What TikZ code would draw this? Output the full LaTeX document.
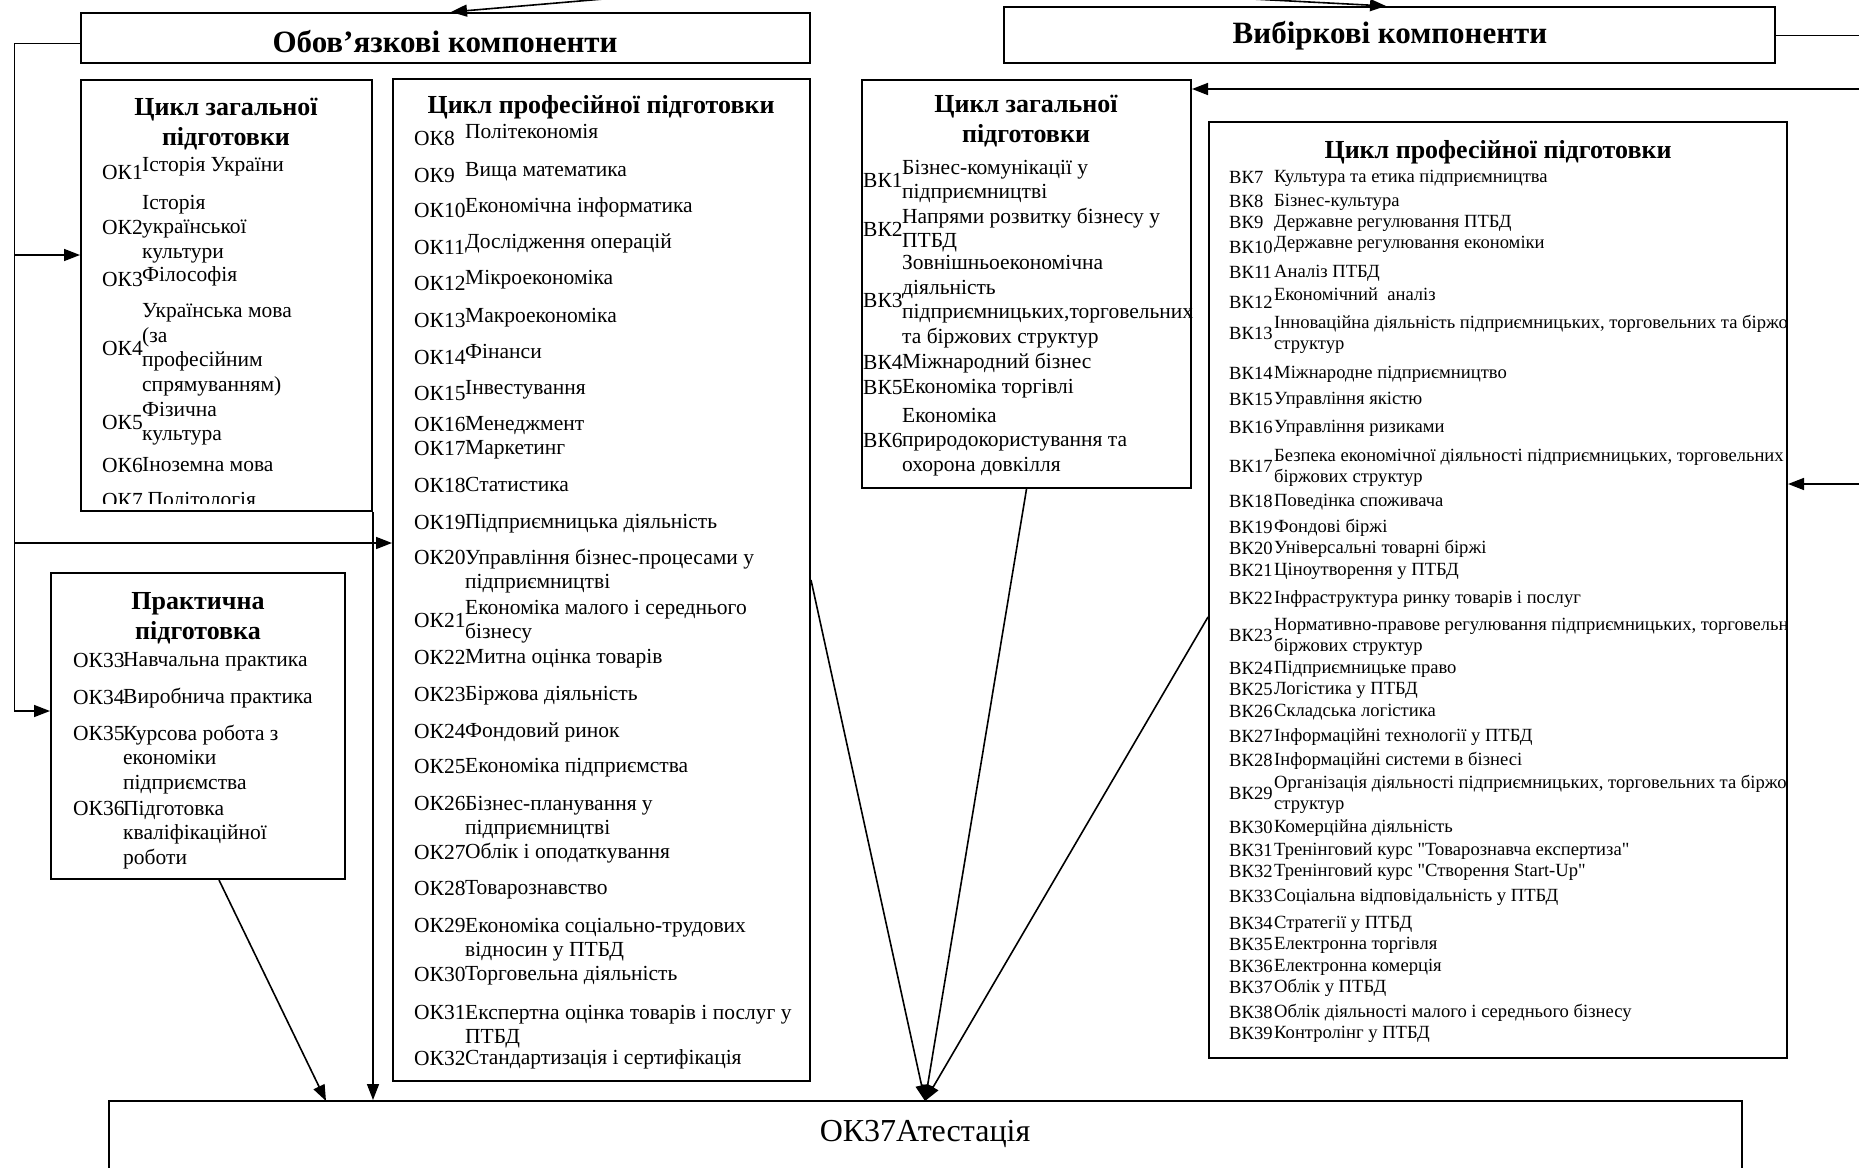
\documentclass[tikz,border=0pt]{standalone}
\usepackage{fontspec}
\setmainfont{Liberation Serif}
\newfontfamily\rawserif[Ligatures=TeXOff]{Liberation Serif}
\usetikzlibrary{arrows.meta}
\newlength{\codew}
\newcommand{\subj}[3][c]{\makebox[\codew][l]{#2}\begin{tabular}[#1]{@{}l@{}}#3\end{tabular}}
\newcommand{\up}[2]{\raisebox{#1pt}[0pt][0pt]{#2}}
\newcommand{\dq}{{\rawserif"}}

\begin{document}
\begin{tikzpicture}
    [x=1pt,y=-1pt,
     box/.style={draw,line width=2pt,inner sep=0pt},
     head/.style={font=\fontsize{31}{36}\selectfont\bfseries},
     title/.style={font=\fontsize{26}{30}\selectfont\bfseries,align=center},
     item/.style={anchor=base west,inner sep=0pt,font=\fontsize{21.5}{24.5}\selectfont},
     okg/.style={item,execute at begin node={\setlength{\codew}{40pt}}},
     okp/.style={item,execute at begin node={\setlength{\codew}{51pt}}},
     prc/.style={item,execute at begin node={\setlength{\codew}{50pt}}},
     vkg/.style={item,execute at begin node={\setlength{\codew}{39pt}}},
     vkp/.style={item,font=\fontsize{18.6}{20.5}\selectfont,execute at begin node={\setlength{\codew}{45pt}}},
     thin/.style={line width=1pt},
     arr/.style={line width=1.6pt,-{Triangle[length=16pt,width=12pt]}}]
    \useasboundingbox (0,0) rectangle (1859,1167);

    % boxes
    \node[box,minimum width=729pt,minimum height=50pt] (oblig) at (445.5,38) {};
    \node[box,minimum width=771pt,minimum height=56pt] (vybir) at (1389.5,35) {};
    \node[box,minimum width=291pt,minimum height=431pt] (okgen) at (226.5,295.5) {};
    \node[box,minimum width=417pt,minimum height=1002pt] (okprof) at (601.5,580) {};
    \node[box,minimum width=294pt,minimum height=306pt] (prac) at (198,726) {};
    \node[box,minimum width=329pt,minimum height=408pt] (vkgen) at (1026.5,284) {};
    \node[box,minimum width=578pt,minimum height=936pt] (vkprof) at (1498,590) {};
    \node[box,minimum width=1633pt,minimum height=100pt] (atest) at (925.5,1151) {};

    \node[head] (oblt) at (445,42) {Обов’язкові компоненти};
    \node[head] (vybt) at (1390,36) {Вибіркові компоненти};
    \node[font=\fontsize{32}{36}\selectfont] (atestt) at (925,1134) {ОК37Атестація};

    \node[title] (okgt) at (226,124) {Цикл загальної\\підготовки};
    \node[title] (okpt) at (601,107) {Цикл професійної підготовки};
    \node[title] (prct) at (198,618) {Практична\\підготовка};
    \node[title] (vkgt) at (1026,121) {Цикл загальної\\підготовки};
    \node[title] (vkpt) at (1498,152) {Цикл професійної підготовки};

    % обов'язкові: загальна підготовка
    \begin{scope}
    \clip (81,80) rectangle (372,503);
    \node[okg] (ok1) at (102,179) {\subj{ОК1}{\up{7}{Історія України}}};
    \node[okg] (ok2) at (102,234) {\subj{ОК2}{Історія\\української\\культури}};
    \node[okg] (ok3) at (102,286) {\subj{ОК3}{\up{4}{Філософія}}};
    \node[okg] (ok4) at (102,355) {\subj{ОК4}{Українська мова\\(за\\професійним\\спрямуванням)}};
    \node[okg] (ok5) at (102,429) {\subj{ОК5}{Фізична\\культура}};
    \node[okg] (ok6) at (102,472) {\subj{ОК6}{Іноземна мова}};
    \node[okg] (ok7) at (102,507) {\subj{ОК7}{\ Політологія}};
    \end{scope}

    % обов'язкові: професійна підготовка
    \node[okp] (ok8) at (414,145) {\subj{ОК8}{\up{6}{Політекономія}}};
    \node[okp] (ok9) at (414,182) {\subj{ОК9}{\up{5}{Вища математика}}};
    \node[okp] (ok10) at (414,217) {\subj{ОК10}{\up{4}{Економічна інформатика}}};
    \node[okp] (ok11) at (414,254) {\subj{ОК11}{\up{5}{Дослідження операцій}}};
    \node[okp] (ok12) at (414,290) {\subj{ОК12}{\up{5}{Мікроекономіка}}};
    \node[okp] (ok13) at (414,327) {\subj{ОК13}{\up{4}{Макроекономіка}}};
    \node[okp] (ok14) at (414,364) {\subj{ОК14}{\up{5}{Фінанси}}};
    \node[okp] (ok15) at (414,400) {\subj{ОК15}{\up{5}{Інвестування}}};
    \node[okp] (ok16) at (414,431) {\subj{ОК16}{Менеджмент}};
    \node[okp] (ok17) at (414,455) {\subj{ОК17}{Маркетинг}};
    \node[okp] (ok18) at (414,492) {\subj{ОК18}{Статистика}};
    \node[okp] (ok19) at (414,529) {\subj{ОК19}{Підприємницька діяльність}};
    \node[okp] (ok20) at (414,564) {\subj[t]{ОК20}{Управління бізнес-процесами у\\підприємництві}};
    \node[okp] (ok21) at (414,627) {\subj{ОК21}{Економіка малого і середнього\\бізнесу}};
    \node[okp] (ok22) at (414,664) {\subj{ОК22}{Митна оцінка товарів}};
    \node[okp] (ok23) at (414,701) {\subj{ОК23}{Біржова діяльність}};
    \node[okp] (ok24) at (414,738) {\subj{ОК24}{Фондовий ринок}};
    \node[okp] (ok25) at (414,773) {\subj{ОК25}{Економіка підприємства}};
    \node[okp] (ok26) at (414,810) {\subj[t]{ОК26}{Бізнес-планування у\\підприємництві}};
    \node[okp] (ok27) at (414,859) {\subj{ОК27}{Облік і оподаткування}};
    \node[okp] (ok28) at (414,895) {\subj{ОК28}{Товарознавство}};
    \node[okp] (ok29) at (414,932) {\subj[t]{ОК29}{Економіка соціально-трудових\\відносин у ПТБД}};
    \node[okp] (ok30) at (414,981) {\subj{ОК30}{Торговельна діяльність}};
    \node[okp] (ok31) at (414,1019) {\subj[t]{ОК31}{Експертна оцінка товарів і послуг у\\ПТБД}};
    \node[okp] (ok32) at (414,1065) {\subj{ОК32}{Стандартизація і сертифікація}};

    % практична підготовка
    \node[prc] (ok33) at (73,667) {\subj{ОК33}{Навчальна практика}};
    \node[prc] (ok34) at (73,704) {\subj{ОК34}{Виробнича практика}};
    \node[prc] (ok35) at (73,740) {\subj[t]{ОК35}{Курсова робота з\\економіки\\підприємства}};
    \node[prc] (ok36) at (73,815) {\subj[t]{ОК36}{Підготовка\\кваліфікаційної\\роботи}};

    % вибіркові: загальна підготовка
    \node[vkg] (vk1) at (863,187) {\subj{ВК1}{Бізнес-комунікації у\\підприємництві}};
    \node[vkg] (vk2) at (863,236) {\subj{ВК2}{Напрями розвитку бізнесу у\\ПТБД}};
    \node[vkg] (vk3) at (863,307) {\subj{ВК3}{Зовнішньоекономічна\\діяльність\\підприємницьких,торговельних\\та біржових структур}};
    \node[vkg] (vk4) at (863,369) {\subj{ВК4}{Міжнародний бізнес}};
    \node[vkg] (vk5) at (863,394) {\subj{ВК5}{Економіка торгівлі}};
    \node[vkg] (vk6) at (863,447) {\subj{ВК6}{Економіка\\природокористування та\\охорона довкілля}};

    % вибіркові: професійна підготовка
    \begin{scope}
    \clip (1209,122) rectangle (1786,1058);
    \node[vkp] (vk7) at (1229,183) {\subj{ВК7}{Культура та етика підприємництва}};
    \node[vkp] (vk8) at (1229,207) {\subj{ВК8}{Бізнес-культура}};
    \node[vkp] (vk9) at (1229,228) {\subj{ВК9}{Державне регулювання ПТБД}};
    \node[vkp] (vk10) at (1229,253) {\subj{ВК10}{\up{4}{Державне регулювання економіки}}};
    \node[vkp] (vk11) at (1229,278) {\subj{ВК11}{Аналіз ПТБД}};
    \node[vkp] (vk12) at (1229,308) {\subj{ВК12}{\up{7}{Економічний\ \ аналіз}}};
    \node[vkp] (vk13) at (1229,339) {\subj{ВК13}{Інноваційна діяльність підприємницьких, торговельних та біржових\\структур}};
    \node[vkp] (vk14) at (1229,379) {\subj{ВК14}{Міжнародне підприємництво}};
    \node[vkp] (vk15) at (1229,405) {\subj{ВК15}{Управління якістю}};
    \node[vkp] (vk16) at (1229,433) {\subj{ВК16}{Управління ризиками}};
    \node[vkp] (vk17) at (1229,472) {\subj{ВК17}{Безпека економічної діяльності підприємницьких, торговельних та\\біржових структур}};
    \node[vkp] (vk18) at (1229,507) {\subj{ВК18}{Поведінка споживача}};
    \node[vkp] (vk19) at (1229,533) {\subj{ВК19}{Фондові біржі}};
    \node[vkp] (vk20) at (1229,554) {\subj{ВК20}{Універсальні товарні біржі}};
    \node[vkp] (vk21) at (1229,576) {\subj{ВК21}{Ціноутворення у ПТБД}};
    \node[vkp] (vk22) at (1229,604) {\subj{ВК22}{Інфраструктура ринку товарів і послуг}};
    \node[vkp] (vk23) at (1229,641) {\subj{ВК23}{Нормативно-правове регулювання підприємницьких, торговельних та\\біржових структур}};
    \node[vkp] (vk24) at (1229,674) {\subj{ВК24}{Підприємницьке право}};
    \node[vkp] (vk25) at (1229,695) {\subj{ВК25}{Логістика у ПТБД}};
    \node[vkp] (vk26) at (1229,717) {\subj{ВК26}{Складська логістика}};
    \node[vkp] (vk27) at (1229,742) {\subj{ВК27}{Інформаційні технології у ПТБД}};
    \node[vkp] (vk28) at (1229,766) {\subj{ВК28}{Інформаційні системи в бізнесі}};
    \node[vkp] (vk29) at (1229,799) {\subj{ВК29}{Організація діяльності підприємницьких, торговельних та біржових\\структур}};
    \node[vkp] (vk30) at (1229,833) {\subj{ВК30}{Комерційна діяльність}};
    \node[vkp] (vk31) at (1229,856) {\subj{ВК31}{Тренінговий курс \dq Товарознавча експертиза\dq}};
    \node[vkp] (vk32) at (1229,877) {\subj{ВК32}{Тренінговий курс \dq Створення Start-Up\dq}};
    \node[vkp] (vk33) at (1229,902) {\subj{ВК33}{Соціальна відповідальність у ПТБД}};
    \node[vkp] (vk34) at (1229,929) {\subj{ВК34}{Стратегії у ПТБД}};
    \node[vkp] (vk35) at (1229,950) {\subj{ВК35}{Електронна торгівля}};
    \node[vkp] (vk36) at (1229,972) {\subj{ВК36}{Електронна комерція}};
    \node[vkp] (vk37) at (1229,993) {\subj{ВК37}{Облік у ПТБД}};
    \node[vkp] (vk38) at (1229,1018) {\subj{ВК38}{Облік діяльності малого і середнього бізнесу}};
    \node[vkp] (vk39) at (1229,1039) {\subj{ВК39}{Контролінг у ПТБД}};
    \end{scope}

    % connectors
    \coordinate (src) at (850,-22);
    \coordinate (oblin) at (451,12);
    \coordinate (vybin) at (1386,6);
    \draw[arr] (src) -- (oblin);
    \draw[arr] (src) -- (vybin);

    \coordinate (l0) at (14,43);
    \coordinate (l1) at (14,255);
    \coordinate (l2) at (14,543);
    \coordinate (l3) at (14,711);
    \draw[thin] ([yshift=-5pt]oblig.west) -- (l0) -- (l3);
    \draw[arr] (l1) -- (l1 -| okgen.west);
    \draw[arr] (l2) -- (l2 -| okprof.west);
    \draw[arr] (l3) -- (l3 -| prac.west);

    \coordinate (r0) at (1885,35);
    \coordinate (r1) at (1885,89);
    \coordinate (r2) at (1885,484);
    \draw[thin] (vybir.east) -- (r0) -- (r2);
    \draw[arr] (r1) -- (r1 -| vkgen.east);
    \draw[arr] (r2) -- (r2 -| vkprof.east);

    \coordinate (t1) at (326,1101);
    \coordinate (t3) at (925,1101);
    \draw[arr] ([xshift=21pt]prac.south) -- (t1);
    \draw[arr] (okgen.south east) -- (okgen.south east |- atest.north);
    \draw[arr] (okprof.east) -- (t3);
    \draw[arr] (vkgen.south) -- (t3);
    \draw[arr] ([yshift=-27pt]vkprof.west) -- (t3);
  \end{tikzpicture}
\end{document}
